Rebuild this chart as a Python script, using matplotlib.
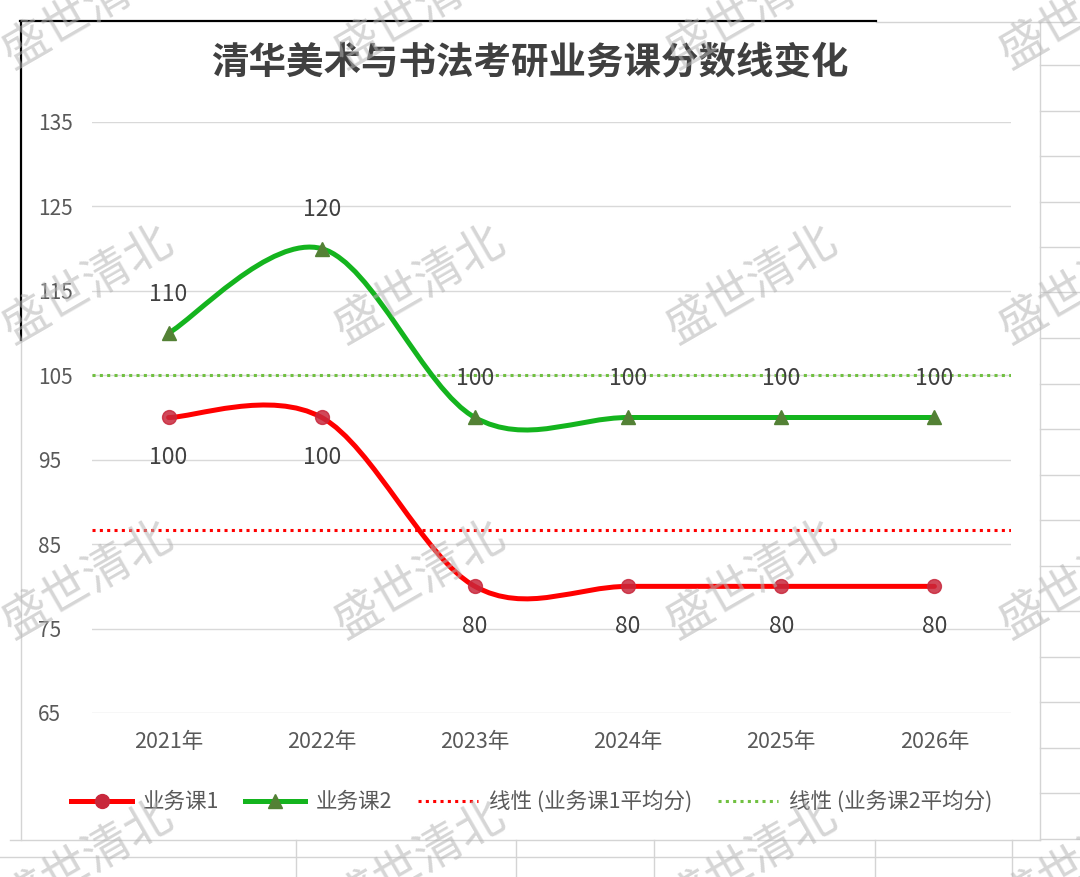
import numpy as np
import matplotlib.pyplot as plt
from matplotlib.path import Path
from matplotlib.patches import PathPatch
from matplotlib.lines import Line2D

plt.rcParams['font.family'] = ['Noto Sans CJK SC', 'DejaVu Sans']

# data
years = ['2021年', '2022年', '2023年', '2024年', '2025年', '2026年']
course1 = [100, 100, 80, 80, 80, 80]
course2 = [110, 120, 100, 100, 100, 100]
yticks = [65, 75, 85, 95, 105, 115, 125, 135]
title = '清华美术与书法考研业务课分数线变化'
names = ['业务课1', '业务课2', '线性 (业务课1平均分)', '线性 (业务课2平均分)']
watermark = '盛世清北'

W, H = 1080, 877


def fx(x):
    return x / W


def fy(y):
    return 1 - y / H


def smooth_path(xs, ys):
    # excel style smoothed line: cubic bezier through the points
    pts = np.column_stack([xs, ys]).astype(float)
    n = len(pts)
    verts = [pts[0]]
    codes = [Path.MOVETO]
    for i in range(n - 1):
        p0 = pts[i - 1] if i > 0 else pts[i]
        p1 = pts[i]
        p2 = pts[i + 1]
        p3 = pts[i + 2] if i + 2 < n else pts[i + 1]
        verts += [p1 + (p2 - p0) / 6, p2 - (p3 - p1) / 6, p2]
        codes += [Path.CURVE4] * 3
    return Path(verts, codes)


fig = plt.figure(figsize=(10.8, 8.77), dpi=100)
fig.patch.set_facecolor('white')

# spreadsheet / screenshot decorations
def fline(x0, y0, x1, y1, color='#D4D4D4', lw=1.0):
    fig.add_artist(Line2D([fx(x0), fx(x1)], [fy(y0), fy(y1)],
                          transform=fig.transFigure, color=color, lw=lw))

fline(876, 22, 1080, 22)
fline(1040, 22, 1040, 840)
fline(21, 340, 21, 840)
fline(10, 840, 1040, 840)
fline(0, 857, 1080, 857)
for xv in [296, 516, 654, 875, 1012]:
    fline(xv, 840, xv, 877)
for yv in np.arange(65, 877, 45.5):
    fline(1040, yv, 1080, yv)
fline(20, 21, 876, 21, color='black', lw=1.6)
fline(21, 21, 21, 340, color='black', lw=1.6)

ax = fig.add_axes([fx(92), fy(713), fx(1011) - fx(92), fy(122) - fy(713)])
ax.set_facecolor('none')
x = np.arange(len(years))

ax.add_patch(PathPatch(smooth_path(x, course1), facecolor='none',
                       edgecolor='#FF0000', lw=3.6, capstyle='round', zorder=3))
ax.add_patch(PathPatch(smooth_path(x, course2), facecolor='none',
                       edgecolor='#14B41E', lw=3.6, capstyle='round', zorder=3))
ax.plot(x, course1, 'o', color='#C8283C', ms=10, alpha=0.85, zorder=4)
ax.plot(x, course2, '^', color='#538135', ms=10, zorder=4)

ax.axhline(np.mean(course1), color='#FF0000', lw=2.2, ls=(0, (1, 1.4)), zorder=2)
ax.axhline(np.mean(course2), color='#70C040', lw=2.2, ls=(0, (1, 1.4)), zorder=2)

for xi, v in zip(x, course1):
    ax.annotate(str(v), (xi, v), xytext=(0, -29), textcoords='offset points',
                ha='center', va='center', fontsize=16.5, color='#404040')
for xi, v in zip(x, course2):
    ax.annotate(str(v), (xi, v), xytext=(0, 28), textcoords='offset points',
                ha='center', va='center', fontsize=16.5, color='#404040')

ax.set_xlim(-0.5, len(years) - 0.5)
ax.set_ylim(65, 135)
ax.set_yticks(yticks)
ax.set_xticks(x)
ax.set_xticklabels(years)
ax.tick_params(axis='y', length=0, pad=39, labelsize=15, labelcolor='#595959')
ax.tick_params(axis='x', length=0, pad=13, labelsize=15.5, labelcolor='#595959')
for lbl in ax.get_yticklabels():
    lbl.set_horizontalalignment('left')
ax.yaxis.grid(True, color='#D9D9D9', lw=1)
ax.set_axisbelow(True)
for s in ax.spines.values():
    s.set_visible(False)

fig.text(fx(530), fy(62), title, ha='center', va='center', fontsize=27,
         fontweight='bold', color='#404040')

handles = [
    Line2D([], [], color='#FF0000', lw=3.6, marker='o', ms=10,
           markerfacecolor='#C8283C', markeredgecolor='#C8283C'),
    Line2D([], [], color='#14B41E', lw=3.6, marker='^', ms=10,
           markerfacecolor='#538135', markeredgecolor='#538135'),
    Line2D([], [], color='#FF0000', lw=2.2, ls=(0, (1, 1.4))),
    Line2D([], [], color='#70C040', lw=2.2, ls=(0, (1, 1.4))),
]
fig.legend(handles, names, loc='center', bbox_to_anchor=(fx(532), fy(802)),
           ncol=4, frameon=False, fontsize=15.5, handlelength=2.8,
           columnspacing=1.2, handletextpad=0.5, labelcolor='#595959')

# watermarks
for wy in [10, 285, 580, 860]:
    for wx in [88, 420, 752, 1085]:
        fig.text(fx(wx), fy(wy), watermark, ha='center', va='center',
                 rotation=30, fontsize=34, color='#B4B4B4', alpha=0.55,
                 zorder=10)

fig.savefig('out.png', dpi=100)
